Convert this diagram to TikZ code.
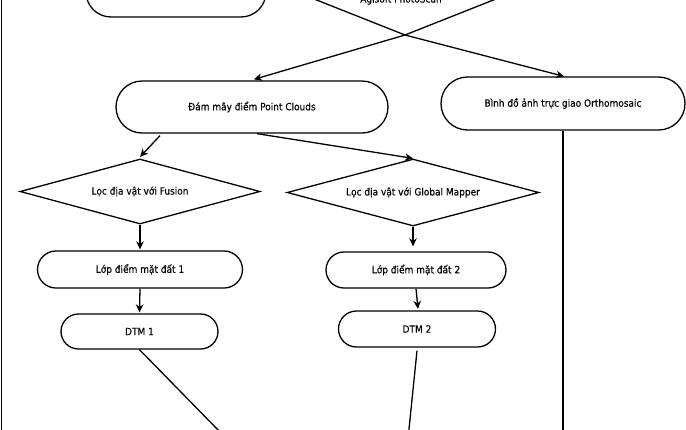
\documentclass[tikz,border=0pt]{standalone}
\usepackage{fontspec}
\setmainfont{DejaVu Sans Condensed}[UprightFeatures={FakeBold=0.3}]
\usetikzlibrary{shapes.geometric,arrows.meta}
\begin{document}
\begin{tikzpicture}[x=1pt,y=-1pt,
  font=\fontsize{10}{12}\selectfont,
  box/.style={draw=black,line width=1.3pt,inner sep=0pt,align=center},
  dia/.style={draw=black,line width=1.3pt,shape=diamond,aspect=3.6,inner sep=0pt},
  link/.style={draw=black,line width=1.3pt,-{Stealth[length=8pt,width=7.5pt,inset=2.5pt]}},
  plain/.style={draw=black,line width=1.3pt}]
\useasboundingbox (0,0) rectangle (686,429);
\fill[white] (0,0) rectangle (686,429);
\clip (0,0) rectangle (686,429);
% left frame line
\draw[plain] (1.5,-5) -- (1.5,435);
% nodes
\node[box,minimum width=180pt,minimum height=50pt,rounded corners=25pt] (topbox) at (176,-8) {};
\node[anchor=base] (agi) at (401,2.5) {Agisoft PhotoScan};
\node[box,minimum width=272pt,minimum height=52pt,rounded corners=26pt] (pc) at (252,107) {Đám mây điểm Point Clouds};
\node[box,minimum width=244pt,minimum height=53pt,rounded corners=26.5pt] (ortho) at (563,103.5) {Bình đồ ảnh trực giao Orthomosaic};
\node[dia,minimum width=240pt,minimum height=65pt] (fus) at (140,191.5) {Lọc địa vật với Fusion};
\node[dia,minimum width=252pt,minimum height=67pt] (gm) at (413,192.5) {Lọc địa vật với Global Mapper};
\node[box,minimum width=205pt,minimum height=37pt,rounded corners=18.5pt] (l1) at (140,269.5) {Lớp điểm mặt đất 1};
\node[box,minimum width=180pt,minimum height=36pt,rounded corners=18pt] (l2) at (416,270) {Lớp điểm mặt đất 2};
\node[box,minimum width=157pt,minimum height=35pt,rounded corners=17.5pt] (d1) at (139.5,331.5) {DTM 1};
\node[box,minimum width=157pt,minimum height=36pt,rounded corners=18pt] (d2) at (417,329) {DTM 2};
% free ends
\coordinate (ta) at (304,-5);
\coordinate (tb) at (506,-5);
\coordinate (cr) at (405,35);
\coordinate (e1) at (222,434);
\coordinate (e2) at (408.5,434);
\coordinate (e3) at (563,434);
% connectors
\draw[link] (ta) -- (cr) -- ([xshift=1pt]ortho.north);
\draw[link] (tb) -- (cr) -- ([xshift=2pt,yshift=1pt]pc.north);
\draw[link] ([xshift=-92pt,yshift=-2pt]pc.south) -- ([yshift=1.5pt]fus.north);
\draw[link] ([xshift=5pt]pc.south) -- (gm.north);
\draw[link] (fus.south) -- ([yshift=1pt]l1.north);
\draw[link] (gm.south) -- ([yshift=5pt]l2.north -| gm.south);
\draw[link] (l1.south) -- ([yshift=1pt]d1.north);
\draw[link] (l2.south) -- ([xshift=1pt,yshift=1.5pt]d2.north);
\draw[plain] (d1.south) -- (e1);
\draw[plain] ([yshift=-3pt]d2.south) -- (e2);
\draw[plain] (ortho.south) -- (e3);
\end{tikzpicture}
\end{document}
